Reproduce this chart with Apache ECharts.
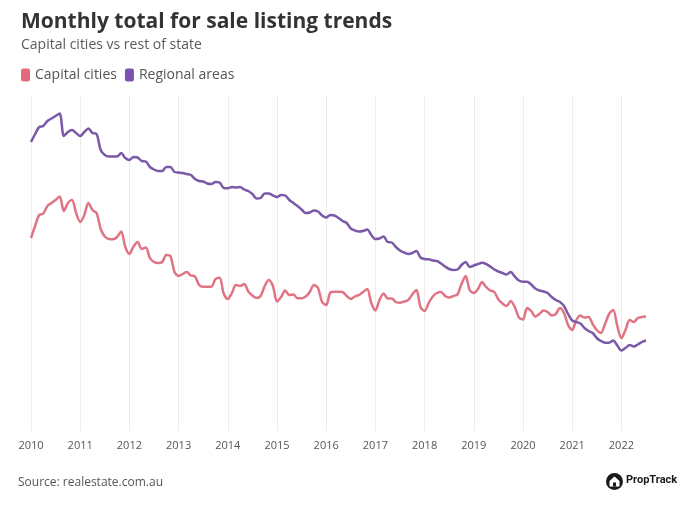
<!DOCTYPE html>
<html>
<head>
<meta charset="utf-8">
<script src="https://cdn.jsdelivr.net/npm/echarts@6/dist/echarts.min.js"></script>
<style>
html,body{margin:0;padding:0;background:#fff;}
#chart{width:692px;height:508px;}
</style>
</head>
<body>
<div id="chart"></div>
<script>
// Monthly, Jan 2010 – Jul 2022 (relative index scale; the source shows no y-axis values)
const years = [2010,2011,2012,2013,2014,2015,2016,2017,2018,2019,2020,2021,2022];
const lastMonth = 7; // July 2022

const capitalCities = [
  193,205,216,217.5,225,228,231,234.5,220,228,231,218,
  209,216,228,221,218,202,194.5,192,191.7,194,199.5,184,
  177,184.5,189,182,183.5,173,169,168,169,176,175,159,
  155,157,159,155.5,154.5,146,144.3,144.3,144.3,152,153.3,137.5,
  132,138,146,145,147,139.5,135.5,133,135,145,151,145,
  129.5,134,140.5,136,136.5,132.7,132.7,134.5,139,146,143,129,
  126,138.5,139.3,139.3,139,135,132,134.5,136,139,142,128,
  120.5,131,137.5,132.5,132.5,129,128.3,129.5,131,136.5,141,124,
  120,128,134.5,138,139,135,133.5,135,136.5,147,155,141,
  138,141.7,149,144,140.5,139,131.5,127.5,125,130,124,113.5,
  111.5,123,120,114.5,117,120.5,119,115.5,117,123,118,106,
  101,111,115.5,113.5,114,107,101,98,107,117,121,105,
  93,101,111,109,113,114,114.5
];

const regionalAreas = [
  289,297,304,305,310,312.5,315,317.5,295,299,301,298,
  295,299,302.5,298,297,281,276,274.5,274.5,274.5,278,273,
  271,274,273.5,270,269.5,264,261.5,260,260,264,264,259,
  258.5,258,257,256,252,250,249.5,247.5,247,249,248.5,243,
  242.7,244,243.5,244,241.5,240,237,232.5,233,237.5,237.5,235.5,
  234,236,235.5,231,228,225,221.5,218,218.5,220.5,219.5,215.5,
  213.5,216,215.5,213,210,208,202.5,200.5,199.5,200,201.5,196,
  192,192.5,194.5,189,188.5,184,180.5,178.5,177,178,180,173.5,
  172,171.7,170.5,170,167.5,164.5,162,161,161.5,166,169,164,
  165.5,167,168.3,167,164.5,161.5,159.5,158,156.5,159,154.5,150.5,
  149.3,149.3,146.5,142.5,140.5,139.5,138,134,131,129,125,117,
  110.5,109,107.5,103,100,98,93,90,88.3,88.3,90.5,85.5,
  80.5,83,86,84.5,86.5,89,90.5
];

const months = [];
years.forEach(y => {
  for (let m = 1; m <= 12; m++) {
    if (y === 2022 && m > lastMonth) break;
    months.push(y + '-' + String(m).padStart(2, '0'));
  }
});

const chart = echarts.init(document.getElementById('chart'), null, {renderer: 'canvas'});
const isJan = (idx, val) => String(val).endsWith('-01');

chart.setOption({
  backgroundColor: '#ffffff',
  animation: false,
  title: {
    text: 'Monthly total for sale listing trends',
    subtext: 'Capital cities vs rest of state',
    left: 16,
    top: 7,
    itemGap: 5,
    textStyle: {fontFamily: 'Open Sans', fontWeight: 'bold', fontSize: 21, color: '#333333'},
    subtextStyle: {fontFamily: 'Open Sans', fontSize: 14, color: '#5a5a5a'}
  },
  legend: {
    left: 16,
    top: 63,
    icon: 'roundRect',
    itemWidth: 9,
    itemHeight: 13,
    itemGap: 8,
    textStyle: {fontFamily: 'Open Sans', fontSize: 14, color: '#555555'},
    data: ['Capital cities', 'Regional areas']
  },
  grid: {left: 31, right: 46, top: 95, bottom: 77, containLabel: false},
  xAxis: {
    type: 'category',
    data: months,
    boundaryGap: false,
    axisLine: {show: false},
    axisTick: {show: false},
    axisLabel: {
      interval: isJan,
      formatter: v => v.slice(0, 4),
      color: '#555555',
      fontFamily: 'Open Sans',
      fontSize: 11,
      margin: 9
    },
    splitLine: {show: true, interval: isJan, lineStyle: {color: '#ececec', width: 1}}
  },
  yAxis: {
    type: 'value',
    min: 0,
    max: 336,
    show: false,
    splitLine: {show: false}
  },
  series: [
    {
      name: 'Capital cities',
      type: 'line',
      data: capitalCities,
      showSymbol: false,
      smooth: 0.3,
      itemStyle: {color: '#e4697a'},
      lineStyle: {color: '#e07484', width: 2.5}
    },
    {
      name: 'Regional areas',
      type: 'line',
      data: regionalAreas,
      showSymbol: false,
      smooth: 0.3,
      itemStyle: {color: '#7b52b3'},
      lineStyle: {color: '#7a5aa8', width: 2.5}
    }
  ],
  graphic: [
    {
      type: 'text',
      left: 18,
      top: 477,
      style: {text: 'Source: realestate.com.au', fill: '#555555', font: '12px "Open Sans"'}
    },
    {
      type: 'group',
      left: 606,
      top: 473,
      children: [
        {type: 'circle', shape: {cx: 8, cy: 8, r: 8.5}, style: {fill: '#1a1a1a'}},
        {type: 'polygon', shape: {points: [[8,3],[13,7.5],[13,13],[3,13],[3,7.5]]}, style: {fill: '#ffffff'}},
        {type: 'rect', shape: {x: 6.5, y: 9, width: 3, height: 4}, style: {fill: '#1a1a1a'}},
        {type: 'text', x: 19.5, y: 1.5, style: {text: 'PropTrack', fill: '#1a1a1a', font: 'bold 11px Roboto'}}
      ]
    }
  ]
});
</script>
</body>
</html>
